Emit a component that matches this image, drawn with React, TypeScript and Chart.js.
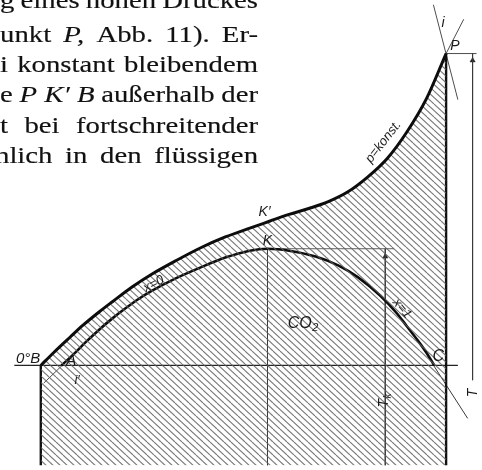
import React, { useEffect, useRef } from "react";
import { Chart, registerables } from "chart.js";

Chart.register(...registerables);

const W = 482;
const H = 470;

// Isobar p = konst. running B – K' – P (entropy s, temperature T in drawing units)
const pKonstS = [37, 50, 67, 80, 97, 110, 130, 150, 175, 200, 225, 250, 270, 290, 310, 330, 350, 370, 390, 410, 430, 450];
const pKonstT = [102, 115, 131, 143, 157, 167, 182, 195, 209, 222, 233, 242, 249, 256, 262, 269, 279, 294, 313, 340, 374, 420];

// Saturation dome: boiling line x = 0 from A up to K, dew line x = 1 from K down to C
const domeS = [58, 70, 83, 97, 110, 123, 137, 150, 175, 200, 225, 250, 268, 290, 317, 340, 360, 383, 400, 410, 420, 430, 438];
const domeT = [102, 113, 126, 139, 150, 160, 170, 178, 191, 202, 212, 219, 221, 219, 213, 204, 192, 173, 155, 142, 129, 115, 102];

// Reference states
const T_ZERO = 102; // 0 °C isotherm through B, A, C
const S_B = 37;
const S_P = 450;
const T_P = 420;
const S_K = 268;
const T_K = 221;
const S_TK = 388; // position of the T_k dimension line
const S_T = 477; // position of the T dimension line

// Text of the page beside the figure
const paragraph: string[][] = [
  ["g", "eines", "hohen", "Druckes"],
  ["unkt", "P,", "Abb.", "11).", "Er-"],
  ["i", "konstant", "bleibendem"],
  ["e", "P K\u2032 B", "außerhalb", "der"],
  ["t", "bei", "fortschreitender"],
  ["hlich", "in", "den", "flüssigen"],
];
const italicWords = new Set(["P,", "P K\u2032 B"]);

type Label = { text: string; sub?: string; s: number; t: number; rot?: number; size?: number };
const figureLabels: Label[] = [
  { text: "0°B", s: 24, t: 109, size: 15 },
  { text: "A", s: 68, t: 107, size: 15 },
  { text: "i\u2032", s: 74, t: 87, size: 13 },
  { text: "K\u2032", s: 265, t: 258, size: 14 },
  { text: "K", s: 268, t: 229, size: 14 },
  { text: "x=0", s: 152, t: 185, rot: -28, size: 13 },
  { text: "x=1", s: 405, t: 160, rot: 50, size: 13 },
  { text: "CO", sub: "2", s: 304, t: 145, size: 16 },
  { text: "C", s: 442, t: 111, size: 16 },
  { text: "P", s: 459, t: 428, size: 14 },
  { text: "i", s: 447, t: 451, size: 14 },
  { text: "p=konst.", s: 386, t: 330, rot: -52, size: 13 },
  { text: "T", sub: "k", s: 387, t: 66, rot: -90, size: 14 },
  { text: "T", s: 478, t: 74, rot: -90, size: 14 },
];

const zip = (xs: number[], ys: number[]) => xs.map((x, i) => ({ x, y: ys[i] }));

function makeHatch(ctx: CanvasRenderingContext2D): CanvasPattern | string {
  const tile = document.createElement("canvas");
  const tw = 14;
  const th = 13;
  tile.width = tw;
  tile.height = th;
  const g = tile.getContext("2d");
  if (!g) return "#bbb";
  g.strokeStyle = "rgba(95,95,95,0.85)";
  g.lineWidth = 1.1;
  for (let k = -3; k <= 3; k++) {
    g.beginPath();
    g.moveTo(k * (tw / 2), 0);
    g.lineTo(k * (tw / 2) + tw, th);
    g.stroke();
  }
  return ctx.createPattern(tile, "repeat") || "#bbb";
}

const SERIF = '"Liberation Serif", "DejaVu Serif", serif';
const SANS = '"Liberation Sans", "DejaVu Sans", sans-serif';

const pageText = {
  id: "pageText",
  afterDraw(chart: Chart) {
    const ctx = chart.ctx;
    const size = 23;
    const sx = 1.25;
    const right = 258;
    const baselines = [8, 42, 72, 102, 133, 163];
    const starts = [0, 0, 0, 0, 0, -5];
    ctx.save();
    ctx.fillStyle = "#111";
    ctx.strokeStyle = "#111";
    ctx.lineWidth = 0.15;
    ctx.textBaseline = "alphabetic";
    ctx.textAlign = "left";
    paragraph.forEach((words, li) => {
      const fonts = words.map((w) => (italicWords.has(w) ? `italic ${size}px ${SERIF}` : `${size}px ${SERIF}`));
      const widths = words.map((w, i) => {
        ctx.font = fonts[i];
        return ctx.measureText(w).width * sx;
      });
      const total = widths.reduce((a, b) => a + b, 0);
      const gap = (right - starts[li] - total) / (words.length - 1);
      let x = starts[li];
      words.forEach((w, i) => {
        ctx.font = fonts[i];
        ctx.save();
        ctx.translate(x, baselines[li]);
        ctx.scale(sx, 1);
        ctx.fillText(w, 0, 0);
        ctx.strokeText(w, 0, 0);
        ctx.restore();
        x += widths[i] + gap;
      });
    });
    ctx.restore();

    // lettering inside the figure
    const xs = chart.scales.x;
    const ys = chart.scales.y;
    ctx.save();
    ctx.fillStyle = "#1a1a1a";
    ctx.textBaseline = "middle";
    ctx.textAlign = "left";
    figureLabels.forEach((l) => {
      const fs = l.size ?? 14;
      const main = `italic ${fs}px ${SANS}`;
      const small = `italic ${Math.round(fs * 0.7)}px ${SANS}`;
      ctx.font = main;
      const wMain = ctx.measureText(l.text).width;
      let wSub = 0;
      if (l.sub) {
        ctx.font = small;
        wSub = ctx.measureText(l.sub).width;
      }
      ctx.save();
      ctx.translate(xs.getPixelForValue(l.s), ys.getPixelForValue(l.t));
      ctx.rotate(((l.rot ?? 0) * Math.PI) / 180);
      const x0 = -(wMain + wSub) / 2;
      ctx.font = main;
      ctx.fillText(l.text, x0, 0);
      if (l.sub) {
        ctx.font = small;
        ctx.fillText(l.sub, x0 + wMain + 0.5, fs * 0.3);
      }
      ctx.restore();
    });
    ctx.restore();
  },
};

function line(points: { x: number; y: number }[], width: number, color = "#111", extra: Record<string, unknown> = {}) {
  return {
    data: points,
    showLine: true,
    borderColor: color,
    borderWidth: width,
    pointRadius: 0,
    fill: false,
    ...extra,
  };
}

export default function App() {
  const ref = useRef<HTMLCanvasElement>(null);

  useEffect(() => {
    const canvas = ref.current;
    if (!canvas) return;
    const ctx = canvas.getContext("2d");
    if (!ctx) return;
    const hatch = makeHatch(ctx);
    const thin = "#3a3a3a";

    const chart = new Chart(canvas, {
      type: "scatter",
      data: {
        datasets: [
          // isobar with the hatched area beneath it
          line(zip(pKonstS, pKonstT), 3, "#0d0d0d", {
            fill: "origin",
            backgroundColor: hatch,
            cubicInterpolationMode: "monotone",
          }),
          // saturation curves x = 0 and x = 1
          line(zip(domeS, domeT), 2.6, "#0d0d0d", { cubicInterpolationMode: "monotone" }),
          // bounding verticals through B and P
          line([{ x: S_B, y: T_ZERO }, { x: S_B, y: 0 }], 2.4, "#111"),
          line([{ x: S_P, y: T_P }, { x: S_P, y: 0 }], 2.4, "#111"),
          // 0 °C isotherm
          line([{ x: 10, y: T_ZERO }, { x: 462, y: T_ZERO }], 1.2, "#222"),
          // critical point K: vertical and horizontal helper lines
          line([{ x: S_K, y: T_K }, { x: S_K, y: 0 }], 0.8, thin),
          line([{ x: S_K, y: T_K }, { x: 397, y: T_K }], 0.8, thin),
          // T_k dimension line
          line([{ x: S_TK, y: T_K }, { x: S_TK, y: 0 }], 0.9, thin),
          // T dimension line at P
          line([{ x: S_P, y: T_P }, { x: 481, y: T_P }], 0.9, thin),
          line([{ x: S_T, y: T_P }, { x: S_T, y: 87 }], 0.9, thin),
          // lines i and p through P
          line([{ x: 437, y: 470 }, { x: 462, y: 373 }], 0.9, thin),
          line([{ x: S_P, y: T_P }, { x: 468, y: 455 }], 0.9, thin),
          // line through C
          line([{ x: 436, y: 104 }, { x: 472, y: 48 }], 1, thin),
          // line i' through A
          line([{ x: 40, y: 84 }, { x: 66, y: 109 }], 0.9, thin),
          // arrow heads
          {
            data: [
              { x: S_TK, y: 213 },
              { x: S_T, y: 413 },
            ],
            pointStyle: "triangle",
            pointRadius: 3,
            backgroundColor: "#222",
            borderColor: "#222",
            borderWidth: 0.5,
            showLine: false,
          },
        ],
      },
      options: {
        responsive: false,
        animation: false,
        events: [],
        layout: { padding: 0 },
        plugins: {
          legend: { display: false },
          tooltip: { enabled: false },
          title: { display: false },
        },
        scales: {
          x: { type: "linear", min: 0, max: W, display: false },
          y: { type: "linear", min: 0, max: H, display: false },
        },
      },
      plugins: [pageText],
    } as any);

    return () => chart.destroy();
  }, []);

  return (
    <div style={{ position: "fixed", left: 0, top: 0, width: W, height: H, background: "#fff" }}>
      <canvas ref={ref} width={W} height={H} style={{ display: "block" }} />
    </div>
  );
}
